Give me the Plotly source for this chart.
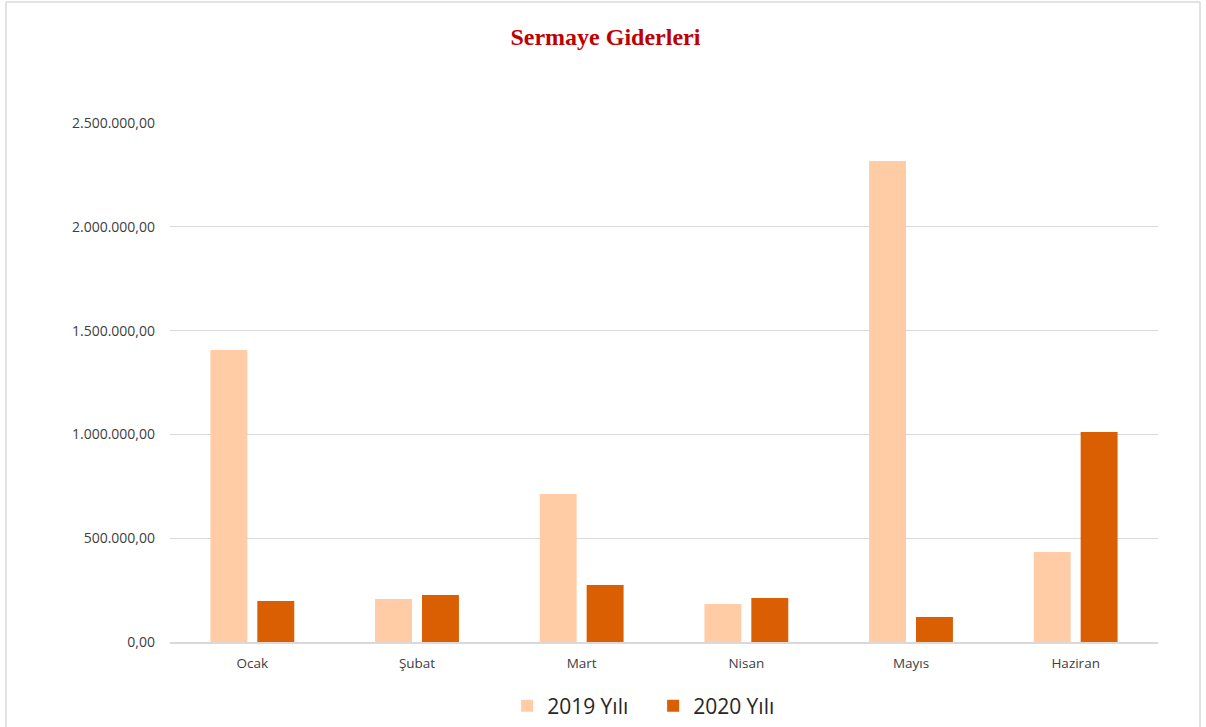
import plotly.graph_objects as go

months = ["Ocak", "Şubat", "Mart", "Nisan", "Mayıs", "Haziran"]
y2019 = [1406000, 207000, 713000, 183000, 2317000, 434000]
y2020 = [197000, 226000, 275000, 212000, 120000, 1012000]
tick_vals = [0, 500000, 1000000, 1500000, 2000000, 2500000]

fig = go.Figure()
fig.add_trace(go.Bar(x=months, y=y2019, name="2019 Yılı", marker_color="#FFCCA6",
                     marker_line_width=0))
fig.add_trace(go.Bar(x=months, y=y2020, name="2020 Yılı", marker_color="#D95F02",
                     marker_line_width=0))

fig.update_layout(
    width=1206, height=727,
    paper_bgcolor="white", plot_bgcolor="white",
    separators=",.",
    margin=dict(l=170, r=48, t=123, b=85, autoexpand=False),
    barmode="group", bargap=0.43, bargroupgap=0.213,
    title=dict(text="<b>Sermaye Giderleri</b>", x=0.502, xanchor="center", y=1 - 37 / 727, yanchor="middle",
               font=dict(family="Liberation Serif", size=24, color="#C00000")),
    font=dict(family="Open Sans", color="#404040"),
    legend=dict(orientation="h", x=0.489, xanchor="center", y=(642 - 706) / 519, yanchor="middle",
                font=dict(size=21, color="#262626"), itemwidth=30, traceorder="normal",
                entrywidth=101, entrywidthmode="pixels"),
    showlegend=True,
)
fig.update_yaxes(range=[0, 2500000], tickvals=tick_vals, tickformat=",.2f",
                 showgrid=True, gridcolor="#D9D9D9", gridwidth=1,
                 zeroline=False, showline=False, ticks="", ticklabelstandoff=14,
                 tickfont=dict(size=14, color="#404040"))
fig.update_xaxes(showline=True, linecolor="#D9D9D9", linewidth=1.5, ticks="",
                 tickfont=dict(size=13.5, color="#404040"), ticklabelstandoff=8)

# outer chart border
x_l = (6 - 170) / 988
x_r = (1200 - 170) / 988
y_t = (642 - 2) / 519
y_b = (642 - 740) / 519
for x0, y0, x1, y1 in [(x_l, y_b, x_l, y_t), (x_r, y_b, x_r, y_t), (x_l, y_t, x_r, y_t)]:
    fig.add_shape(type="line", xref="paper", yref="paper", x0=x0, y0=y0, x1=x1, y1=y1,
                  line=dict(color="#D9D9D9", width=1.5))

fig.write_html("out.html", config={"displayModeBar": False},
               post_script="document.body.style.margin='0';")
